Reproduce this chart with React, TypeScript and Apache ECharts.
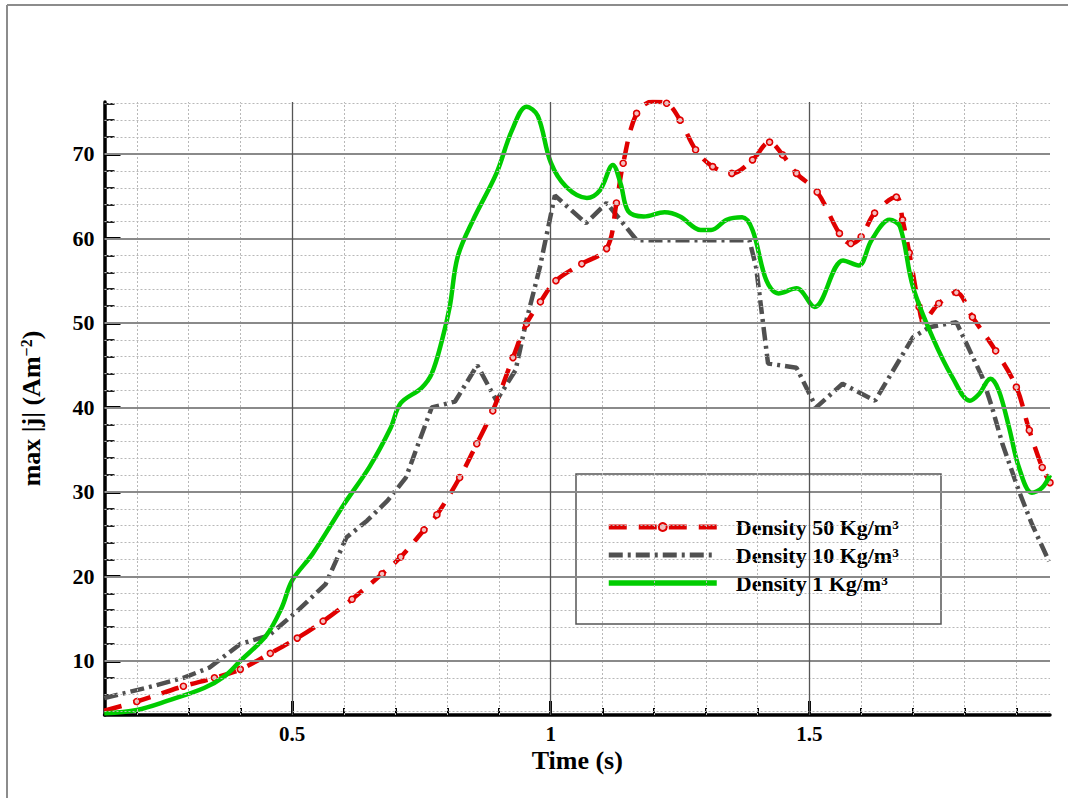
import React, { useEffect, useRef } from "react";
import * as echarts from "echarts";

const seriesNames = ["Density 50 Kg/m³", "Density 10 Kg/m³", "Density 1 Kg/m³"];

const red50: [number, number][] = [
  [0.137, 4.1], [0.2, 5.2], [0.29, 7.0], [0.35, 8.0], [0.4, 9.0], [0.458, 10.9], [0.51, 12.7],
  [0.56, 14.7], [0.616, 17.3], [0.674, 20.3], [0.71, 22.3], [0.755, 25.5], [0.78, 27.3],
  [0.824, 31.7], [0.857, 35.7], [0.888, 39.6], [0.927, 45.9], [0.953, 49.9], [0.98, 52.5],
  [1.01, 55], [1.06, 57], [1.108, 58.8], [1.127, 64.2], [1.14, 68.9], [1.166, 74.8],
  [1.197, 76.2], [1.224, 76], [1.25, 74], [1.28, 70.5], [1.313, 68.5], [1.35, 67.7],
  [1.39, 69.3], [1.423, 71.4], [1.448, 69.9], [1.475, 67.7], [1.515, 65.5], [1.558, 60.6],
  [1.58, 59.4], [1.6, 60.2], [1.626, 63], [1.668, 64.9], [1.68, 62.2], [1.693, 58.3],
  [1.712, 51.9], [1.72, 50.3], [1.75, 52.3], [1.784, 53.6], [1.815, 50.7], [1.86, 46.7],
  [1.9, 42.4], [1.925, 37.3], [1.95, 32.9], [1.965, 31.1],
];

const gray10: [number, number][] = [
  [0.137, 5.6], [0.23, 7], [0.29, 8], [0.34, 9.2], [0.4, 12], [0.455, 13], [0.51, 15.9],
  [0.565, 19.1], [0.605, 24.6], [0.645, 26.6], [0.685, 29], [0.72, 31.7], [0.77, 40],
  [0.815, 40.7], [0.858, 45], [0.895, 40.8], [0.932, 44.4], [0.953, 50.3], [0.979, 56.6],
  [1.008, 65.1], [1.068, 61.8], [1.108, 64.2], [1.166, 59.8], [1.25, 59.8], [1.384, 59.8],
  [1.397, 56.6], [1.42, 45.2], [1.475, 44.7], [1.513, 40], [1.564, 42.8], [1.627, 40.8],
  [1.7, 48.3], [1.732, 49.5], [1.784, 50.1], [1.834, 43.6], [1.853, 40], [1.873, 35.7],
  [1.905, 30.1], [1.93, 26.2], [1.963, 21.8],
];

const green1: [number, number][] = [
  [0.137, 3.8], [0.2, 4.2], [0.26, 5.3], [0.33, 6.8], [0.37, 8.2], [0.4, 10], [0.45, 13],
  [0.48, 16.3], [0.5, 19.5], [0.54, 22.7], [0.6, 28.5], [0.65, 33], [0.69, 37.5], [0.71, 40.5],
  [0.75, 42.3], [0.77, 44], [0.79, 48], [0.805, 52], [0.82, 57.8], [0.85, 62.2], [0.895, 67.7],
  [0.925, 72.8], [0.953, 75.6], [0.975, 74.5], [1.0, 69], [1.03, 66.1], [1.07, 64.8],
  [1.095, 65.7], [1.12, 68.7], [1.135, 66.5], [1.15, 63.2], [1.18, 62.6], [1.22, 63.1],
  [1.25, 62.6], [1.29, 61], [1.31, 61], [1.34, 62.2], [1.37, 62.5], [1.39, 61], [1.417, 55],
  [1.44, 53.5], [1.475, 54.1], [1.51, 51.9], [1.565, 57.4], [1.595, 56.8], [1.62, 59.8],
  [1.655, 62.2], [1.675, 61.4], [1.7, 54.3], [1.738, 48.3], [1.777, 43.5], [1.81, 40.8],
  [1.828, 41.6], [1.85, 43.4], [1.866, 42], [1.886, 37.6], [1.905, 32.9], [1.93, 29.9],
  [1.95, 30.5], [1.965, 32],
];

const xMajorTicks = [0.5, 1, 1.5];
const xMinorTicks = [0.2, 0.3, 0.4, 0.6, 0.7, 0.8, 0.9, 1.1, 1.2, 1.3, 1.4, 1.6, 1.7, 1.8, 1.9];
const yMajorTicks = [10, 20, 30, 40, 50, 60, 70];
const yMinorTicks = [4, 6, 8, 12, 14, 16, 18, 22, 24, 26, 28, 32, 34, 36, 38, 42, 44, 46, 48, 52, 54, 56, 58, 62, 64, 66, 68, 72, 74, 76];

const X_MIN = 0.1375;
const X_MAX = 1.965;
const Y_MIN = 3.6;
const Y_MAX = 76.15;

const FONT = "'Liberation Serif', 'Times New Roman', serif";

export default function App() {
  const ref = useRef<HTMLDivElement>(null);
  useEffect(() => {
    if (!ref.current) return;
    const chart = echarts.init(ref.current, null, { renderer: "svg" });

    const minorDotted = { color: "#b8b8b8", width: 1, type: [2, 2] as any };
    const gridMarks: any[] = [
      ...yMinorTicks.map((v) => ({ yAxis: v, lineStyle: minorDotted })),
      ...xMinorTicks.map((v) => ({ xAxis: v, lineStyle: minorDotted })),
      ...yMajorTicks.map((v) => ({ yAxis: v, lineStyle: { color: "#8a8a8a", width: 2, type: "solid" } })),
      ...xMajorTicks.map((v) => ({ xAxis: v, lineStyle: { color: "#555", width: 1.3, type: "solid" } })),
    ];

    const baseAxisCommon = {
      type: "value",
      axisLine: { show: false },
      splitLine: { show: false },
      axisLabel: { show: false },
    };

    chart.setOption({
      animation: false,
      backgroundColor: "#fff",
      grid: { left: 104.5, right: 18, top: 102, bottom: 83, containLabel: false },
      graphic: [
        { type: "line", shape: { x1: 7, y1: 5, x2: 1068, y2: 5 }, style: { stroke: "#8c8c8c", lineWidth: 2 } },
        { type: "line", shape: { x1: 7, y1: 5, x2: 7, y2: 798 }, style: { stroke: "#8c8c8c", lineWidth: 2 } },
        {
          type: "rect",
          shape: { x: 576, y: 474, width: 365, height: 150 },
          style: { fill: "none", stroke: "#555", lineWidth: 1.5 },
          z: 5,
        },
      ],
      legend: {
        orient: "vertical",
        left: 606,
        top: 513,
        itemWidth: 108,
        itemHeight: 10,
        itemGap: 0,
        padding: 0,
        data: [
          { name: seriesNames[0], lineStyle: { width: 5 } },
          { name: seriesNames[1], itemStyle: { opacity: 0 }, lineStyle: { width: 5 } },
          { name: seriesNames[2], itemStyle: { opacity: 0 }, lineStyle: { width: 5.5 } },
        ],
        textStyle: {
          fontFamily: FONT,
          fontWeight: "bold",
          fontSize: 22,
          color: "#000",
          lineHeight: 28,
          padding: [0, 0, 0, 14],
        },
      },
      xAxis: [
        {
          type: "value",
          min: X_MIN,
          max: X_MAX,
          position: "bottom",
          name: "Time (s)",
          nameLocation: "middle",
          nameGap: 32,
          nameMoveOverlap: false,
          nameTextStyle: { fontFamily: FONT, fontWeight: "bold", fontSize: 26, color: "#000" },
          axisLine: { show: true, onZero: false, lineStyle: { color: "#000", width: 3.5 } },
          axisTick: { show: true, inside: true, length: 14, customValues: xMajorTicks, lineStyle: { color: "#000", width: 3 } },
          axisLabel: { show: true, customValues: xMajorTicks, margin: 8, fontFamily: FONT, fontWeight: "bold", fontSize: 21, color: "#000" },
          splitLine: { show: false },
        },
        {
          ...baseAxisCommon,
          min: X_MIN,
          max: X_MAX,
          position: "bottom",
          offset: 0,
          axisTick: { show: true, inside: true, length: 7, customValues: xMinorTicks, lineStyle: { color: "#000", width: 2 } },
        },
      ],
      yAxis: [
        {
          type: "value",
          min: Y_MIN,
          max: Y_MAX,
          position: "left",
          name: "max |j| (Am{sup|−2})",
          nameLocation: "middle",
          nameGap: 60,
          nameRotate: 90,
          nameTextStyle: {
            fontFamily: FONT,
            fontWeight: "bold",
            fontSize: 26,
            color: "#000",
            rich: {
              sup: { fontFamily: FONT, fontWeight: "bold", fontSize: 16, verticalAlign: "top", color: "#000" },
            },
          },
          axisLine: { show: true, onZero: false, lineStyle: { color: "#000", width: 3.5 } },
          axisTick: { show: true, inside: true, length: 16, customValues: yMajorTicks, lineStyle: { color: "#000", width: 3 } },
          axisLabel: { show: true, customValues: yMajorTicks, margin: 10, fontFamily: FONT, fontWeight: "bold", fontSize: 22, color: "#000" },
          splitLine: { show: false },
        },
        {
          ...baseAxisCommon,
          min: Y_MIN,
          max: Y_MAX,
          position: "left",
          offset: 0,
          axisTick: { show: true, inside: true, length: 10, customValues: yMinorTicks, lineStyle: { color: "#222", width: 2 } },
        },
      ],
      series: [
        {
          name: "grid",
          type: "line",
          data: [[1, 40]],
          symbol: "none",
          lineStyle: { opacity: 0 },
          silent: true,
          z: 0,
          markLine: {
            silent: true,
            symbol: ["none", "none"],
            label: { show: false },
            animation: false,
            data: gridMarks,
          },
        },
        {
          name: seriesNames[0],
          type: "line",
          data: red50,
          smooth: 0.35,
          clip: true,
          z: 3,
          symbol: "circle",
          symbolSize: 6,
          showSymbol: true,
          itemStyle: { color: "#f3c0c0", borderColor: "#e00000", borderWidth: 1.6 },
          lineStyle: { color: "#e00000", width: 4.5, type: [18, 12] },
        },
        {
          name: seriesNames[1],
          type: "line",
          data: gray10,
          smooth: false,
          clip: true,
          z: 2,
          symbol: "none",
          itemStyle: { color: "#505050" },
          lineStyle: { color: "#505050", width: 4.5, type: [14, 5, 3, 5] },
        },
        {
          name: seriesNames[2],
          type: "line",
          data: green1,
          smooth: 0.35,
          clip: true,
          z: 4,
          symbol: "none",
          itemStyle: { color: "#00cc00" },
          lineStyle: { color: "#00cc00", width: 4.5 },
        },
      ],
    });
    return () => chart.dispose();
  }, []);

  return (
    <div
      ref={ref}
      style={{ position: "fixed", left: 0, top: 0, width: 1068, height: 798, background: "#fff" }}
    />
  );
}
